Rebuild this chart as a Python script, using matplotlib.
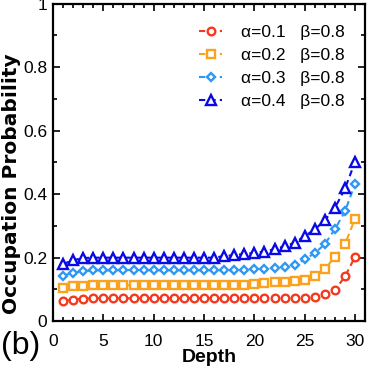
import matplotlib
matplotlib.use("Agg")
import matplotlib.pyplot as plt
from matplotlib.ticker import MultipleLocator

plt.rcParams['font.family'] = ['Liberation Sans', 'DejaVu Sans']

depth = list(range(1, 31))
p_a01 = [0.063, 0.068, 0.071, 0.072, 0.072, 0.072, 0.072, 0.072, 0.072, 0.072,
         0.072, 0.072, 0.072, 0.072, 0.072, 0.072, 0.072, 0.072, 0.072, 0.072,
         0.072, 0.072, 0.072, 0.072, 0.073, 0.077, 0.086, 0.098, 0.141, 0.203]
p_a02 = [0.103, 0.110, 0.112, 0.113, 0.113, 0.113, 0.113, 0.113, 0.113, 0.113,
         0.113, 0.113, 0.113, 0.113, 0.113, 0.113, 0.113, 0.113, 0.114, 0.117,
         0.119, 0.122, 0.124, 0.127, 0.131, 0.141, 0.165, 0.202, 0.243, 0.323]
p_a03 = [0.143, 0.153, 0.157, 0.160, 0.160, 0.160, 0.161, 0.161, 0.161, 0.160,
         0.160, 0.160, 0.160, 0.160, 0.160, 0.160, 0.160, 0.160, 0.160, 0.163,
         0.165, 0.167, 0.171, 0.177, 0.195, 0.214, 0.243, 0.290, 0.346, 0.433]
p_a04 = [0.180, 0.192, 0.199, 0.200, 0.200, 0.200, 0.200, 0.200, 0.200, 0.200,
         0.200, 0.200, 0.200, 0.200, 0.200, 0.200, 0.205, 0.208, 0.212, 0.215,
         0.219, 0.227, 0.236, 0.247, 0.268, 0.289, 0.318, 0.357, 0.418, 0.502]

labels = ['α=0.1   β=0.8', 'α=0.2   β=0.8', 'α=0.3   β=0.8', 'α=0.4   β=0.8']
colors = ['#F43A1E', '#FAA21E', '#2E97F5', '#0A0AE6']
markers = ['o', 's', 'D', '^']
msizes = [5.5, 5.5, 4.3, 6.5]

fig = plt.figure(figsize=(3.69, 3.73), dpi=100)
ax = fig.add_axes([0.1436, 0.139, 0.846, 0.851])

for y, lab, c, m, ms in zip([p_a01, p_a02, p_a03, p_a04], labels, colors, markers, msizes):
    ax.plot(depth, y, linestyle='--', color=c, lw=1.5, marker=m, ms=ms,
            mfc='white', mec=c, mew=1.7, label=lab, dashes=(3, 2))

ax.set_xlim(0, 31)
ax.set_ylim(0, 1)
ax.xaxis.set_major_locator(MultipleLocator(5))
ax.xaxis.set_minor_locator(MultipleLocator(1))
ax.yaxis.set_major_locator(MultipleLocator(0.2))
ax.yaxis.set_minor_locator(MultipleLocator(0.1))
ax.set_yticks([0, 0.2, 0.4, 0.6, 0.8, 1.0])
ax.set_yticklabels(['0', '0.2', '0.4', '0.6', '0.8', '1'])
ax.tick_params(which='both', direction='in', top=True, right=True, labelsize=12.5, width=1.2)
ax.tick_params(which='major', length=5, pad=4)
ax.tick_params(axis='x', which='major', pad=9)
ax.tick_params(which='minor', length=3)
for s in ax.spines.values():
    s.set_linewidth(1.6)

ax.set_xlabel('Depth', fontsize=14, fontweight='bold', labelpad=0.5)
ax.set_ylabel('Occupation Probability', fontsize=14.5, fontweight='bold',
              family=['DejaVu Sans'])
ax.yaxis.set_label_coords(-0.104, 0.432)

leg = ax.legend(loc='upper right', frameon=False, fontsize=12.5, handlelength=1.35,
                borderaxespad=0.3, labelspacing=0.45, handletextpad=1.1,
                bbox_to_anchor=(0.975, 0.972))

fig.text(0.003, 1 - 331 / 373, '(b)', fontsize=23, va='top')

fig.savefig('out.png', dpi=100)
